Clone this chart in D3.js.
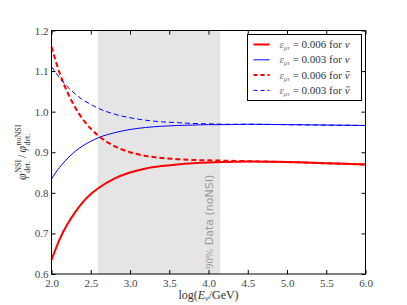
<!doctype html>
<html lang="en">
  <head>
    <meta charset="UTF-8" />
    <title>NSI flux ratio</title>
    <script src="https://unpkg.com/d3@7.9.0/dist/d3.min.js"></script>
    <style>
      body { margin: 0; background: #fff; }
      svg { font-family: 'Liberation Serif', 'DejaVu Serif', serif; }
      .tick text { fill: #444; font-size: 11px; font-family: 'Liberation Serif', serif; }
    </style>
  </head>
  <body>
    <div id="graph"></div>
    <script>
      // log10(E/GeV) sample points
      const logE = [2.0, 2.05, 2.1, 2.2, 2.3, 2.4, 2.5, 2.6, 2.8, 3.0, 3.2, 3.4, 3.6, 3.8, 4.0, 4.25, 4.5, 5.0, 5.5, 6.0];
      // ratio phi_NSI / phi_noNSI
      const nu006 = [0.635, 0.660, 0.684, 0.722, 0.752, 0.777, 0.797, 0.812, 0.835, 0.850, 0.860, 0.866, 0.870, 0.873, 0.875, 0.876, 0.877, 0.876, 0.873, 0.870];
      const nu003 = [0.834, 0.849, 0.862, 0.884, 0.902, 0.916, 0.927, 0.936, 0.948, 0.956, 0.961, 0.964, 0.966, 0.967, 0.968, 0.968, 0.969, 0.968, 0.967, 0.966];
      const nubar006 = [1.160, 1.127, 1.097, 1.049, 1.011, 0.981, 0.958, 0.940, 0.915, 0.900, 0.891, 0.886, 0.883, 0.881, 0.880, 0.879, 0.878, 0.876, 0.873, 0.870];
      const nubar003 = [1.111, 1.097, 1.084, 1.062, 1.044, 1.029, 1.018, 1.008, 0.994, 0.985, 0.979, 0.975, 0.973, 0.971, 0.970, 0.969, 0.969, 0.968, 0.967, 0.966];
      const band = [2.59, 4.15];
      const xTicks = [2.0, 2.5, 3.0, 3.5, 4.0, 4.5, 5.0, 5.5, 6.0];
      const yTicks = [0.6, 0.7, 0.8, 0.9, 1.0, 1.1, 1.2];

      const series = [
        { vals: nu006, color: '#ff0000', w: 2, dash: null, eps: '0.006', bar: false },
        { vals: nu003, color: '#0000ff', w: 1, dash: null, eps: '0.003', bar: false },
        { vals: nubar006, color: '#ff0000', w: 2, dash: '5,3', eps: '0.006', bar: true },
        { vals: nubar003, color: '#0000ff', w: 1, dash: '5,3', eps: '0.003', bar: true },
      ];

      const W = 407, H = 305;
      const margin = { top: 30.5, right: 41.5, bottom: 31, left: 51.5 };
      const width = W - margin.left - margin.right;
      const height = H - margin.top - margin.bottom;

      const svg = d3.select('#graph').append('svg')
        .attr('width', W).attr('height', H);
      const g = svg.append('g')
        .attr('transform', `translate(${margin.left},${margin.top})`);

      const x = d3.scaleLinear().domain([2, 6]).range([0, width]);
      const y = d3.scaleLinear().domain([0.6, 1.2]).range([height, 0]);

      // shaded band
      g.append('rect')
        .attr('x', x(band[0])).attr('y', 0)
        .attr('width', x(band[1]) - x(band[0])).attr('height', height)
        .attr('fill', '#e5e5e5');

      const bandText = g.append('text')
        .attr('transform', `translate(${x(band[1]) - 7},${height - 5}) rotate(-90)`)
        .attr('fill', '#9a9a9a')
        .style('font-size', '11px');
      bandText.append('tspan').style('font-family', 'Liberation Serif, serif').text('90%');
      bandText.append('tspan').style('font-family', 'DejaVu Sans, sans-serif').text(' Data (noNSI)');

      const line = d3.line()
        .x((d, i) => x(logE[i]))
        .y((d) => y(d))
        .curve(d3.curveMonotoneX);

      const plot = g.append('g');
      plot.selectAll('path')
        .data(series)
        .enter()
        .append('path')
        .attr('d', (s) => line(s.vals))
        .attr('fill', 'none')
        .attr('stroke', (s) => s.color)
        .attr('stroke-width', (s) => s.w)
        .attr('stroke-dasharray', (s) => s.dash);

      // axes, ticks pointing inward on all sides
      const fmt = d3.format('.1f');
      g.append('g').attr('transform', `translate(0,${height})`)
        .call(d3.axisBottom(x).tickValues(xTicks).tickFormat(fmt).tickSizeInner(-4).tickSizeOuter(0).tickPadding(5));
      g.append('g')
        .call(d3.axisLeft(y).tickValues(yTicks).tickFormat(fmt).tickSizeInner(-4).tickSizeOuter(0).tickPadding(3));
      g.append('g')
        .call(d3.axisTop(x).tickValues(xTicks).tickFormat('').tickSizeInner(-4).tickSizeOuter(0));
      g.append('g').attr('transform', `translate(${width},0)`)
        .call(d3.axisRight(y).tickValues(yTicks).tickFormat('').tickSizeInner(-4).tickSizeOuter(0));
      g.selectAll('.domain').remove();
      g.selectAll('.tick line').attr('stroke', '#000');

      g.append('rect')
        .attr('width', width).attr('height', height)
        .attr('fill', 'none').attr('stroke', '#000').attr('stroke-width', 1);

      // legend
      const lg = g.append('g').attr('transform', `translate(${width - 118},4)`);
      lg.append('rect')
        .attr('width', 114).attr('height', 66)
        .attr('fill', '#fff').attr('stroke', '#000').attr('stroke-width', 1);
      series.forEach((s, i) => {
        const ry = 10 + i * 15.3;
        lg.append('line')
          .attr('x1', 6).attr('x2', 22).attr('y1', ry).attr('y2', ry)
          .attr('stroke', s.color).attr('stroke-width', s.w)
          .attr('stroke-dasharray', s.dash ? '4,3' : null);
        const t = lg.append('text').attr('x', 32).attr('y', ry + 3.5)
          .attr('fill', '#333').style('font-size', '11px');
        t.append('tspan').style('font-style', 'italic').attr('fill', '#777').text('ε');
        t.append('tspan').style('font-style', 'italic').style('font-size', '7px').attr('dy', 2).attr('fill', '#777').text('μτ');
        t.append('tspan').attr('dy', -2).text(` = ${s.eps} for `);
        const nu = t.append('tspan').style('font-style', 'italic').text('ν');
        if (s.bar) {
          // bar over nu
          const bb = nu.node().getExtentOfChar(0);
          lg.append('line')
            .attr('x1', bb.x + 1.5).attr('x2', bb.x + bb.width + 0.5)
            .attr('y1', ry - 3.5).attr('y2', ry - 3.5)
            .attr('stroke', '#333').attr('stroke-width', 0.7);
        }
      });

      // x label
      const xl = svg.append('text')
        .attr('x', margin.left + width / 2).attr('y', H - 6)
        .attr('text-anchor', 'middle').attr('fill', '#333')
        .style('font-size', '12px');
      xl.append('tspan').text('log(');
      xl.append('tspan').style('font-style', 'italic').text('E');
      xl.append('tspan').style('font-style', 'italic').style('font-size', '8px').attr('dy', 2).text('ν');
      xl.append('tspan').attr('dy', -2).text('/GeV)');

      // y label: phi^NSI_det. / phi^noNSI_det.
      const yl = svg.append('g').attr('fill', '#333');
      let cx = 0;
      function phiTerm(sup) {
        const p = yl.append('text').attr('x', cx).attr('y', 0)
          .style('font-size', '12px').style('font-style', 'italic').text('φ');
        cx += p.node().getComputedTextLength() + 0.5;
        const a = yl.append('text').attr('x', cx).attr('y', -5)
          .style('font-size', '8px').text(sup);
        const b = yl.append('text').attr('x', cx).attr('y', 3.5)
          .style('font-size', '8px').text('det.');
        cx += Math.max(a.node().getComputedTextLength(), b.node().getComputedTextLength());
      }
      phiTerm('NSI');
      const sl = yl.append('text').attr('x', cx + 2).attr('y', 0).style('font-size', '12px').text('/');
      cx += sl.node().getComputedTextLength() + 4;
      phiTerm('noNSI');
      yl.attr('transform', `translate(26,${margin.top + height / 2 + cx / 2}) rotate(-90)`);
    </script>
  </body>
</html>
